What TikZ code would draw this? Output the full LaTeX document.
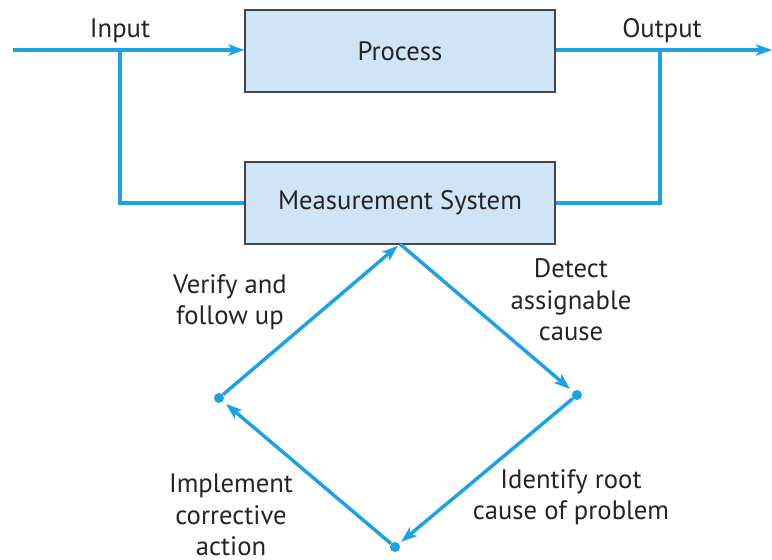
\documentclass[tikz,border=0pt]{standalone}
\usepackage{fontspec}
\setmainfont{PT Sans}
\usetikzlibrary{arrows.meta}
\definecolor{flowblue}{RGB}{27,161,228}
\definecolor{boxfill}{RGB}{208,228,248}
\definecolor{boxline}{RGB}{70,70,70}
\definecolor{txt}{RGB}{40,35,35}
\tikzset{
  blk/.style={draw=boxline, line width=0.9pt, fill=boxfill, minimum width=232.5pt, minimum height=61.5pt, inner sep=0pt, text=txt, font=\fontsize{20}{24}\selectfont},
  mainline/.style={draw=flowblue, line width=3pt},
  loopline/.style={draw=flowblue, line width=2.6pt},
  tip/.style={-{Stealth[length=12pt,width=8.5pt,inset=3pt]}},
  vdot/.style={circle, fill=flowblue, inner sep=0pt, minimum size=7.5pt},
  lbl/.style={text=txt, font=\fontsize{20}{23.5}\selectfont, align=center, inner sep=0pt},
}
\begin{document}
\begin{tikzpicture}[x=0.75pt, y=-0.75pt]
\useasboundingbox (0,0) rectangle (772,560);
% boxes
\node[blk] (proc) at (400,51) {\raisebox{-1.5pt}{Process}};
\node[blk] (meas) at (400,203) {\raisebox{-1.5pt}{Measurement System}};
% input / output
\coordinate (instart) at (13,50);
\coordinate (injunc) at (120,50);
\coordinate (outjunc) at (660,50);
\coordinate (outend) at (772,50);
\draw[mainline, tip] (instart) -- (instart -| proc.west);
\draw[mainline, tip] (proc.east |- outend) -- (outend);
\draw[mainline] (injunc) |- (meas.west);
\draw[mainline] (outjunc) |- (meas.east);
\node[lbl, anchor=base] (inlbl) at (120,38) {Input};
\node[lbl, anchor=base] (outlbl) at (662,38) {Output};
% loop
\coordinate (dT) at (400,244);
\node[vdot] (dR) at (577,395) {};
\node[vdot] (dB) at (395,547) {};
\node[vdot] (dL) at (219,398) {};
\draw[loopline, tip, shorten >=3pt] (dT) -- (dR);
\draw[loopline, tip, shorten >=2pt] (dR) -- (dB);
\draw[loopline, tip, shorten >=3pt] (dB) -- (dL);
\draw[loopline, tip, shorten >=2pt] (dL) -- (dT);
% labels
\node[lbl] (l1) at (230,302) {Verify and\\follow up};
\node[lbl] (l2) at (571,300) {Detect\\assignable\\cause};
\node[lbl] (l3) at (571,497) {Identify root\\cause of problem};
\node[lbl] (l4) at (231,515) {Implement\\corrective\\action};
\end{tikzpicture}
\end{document}
